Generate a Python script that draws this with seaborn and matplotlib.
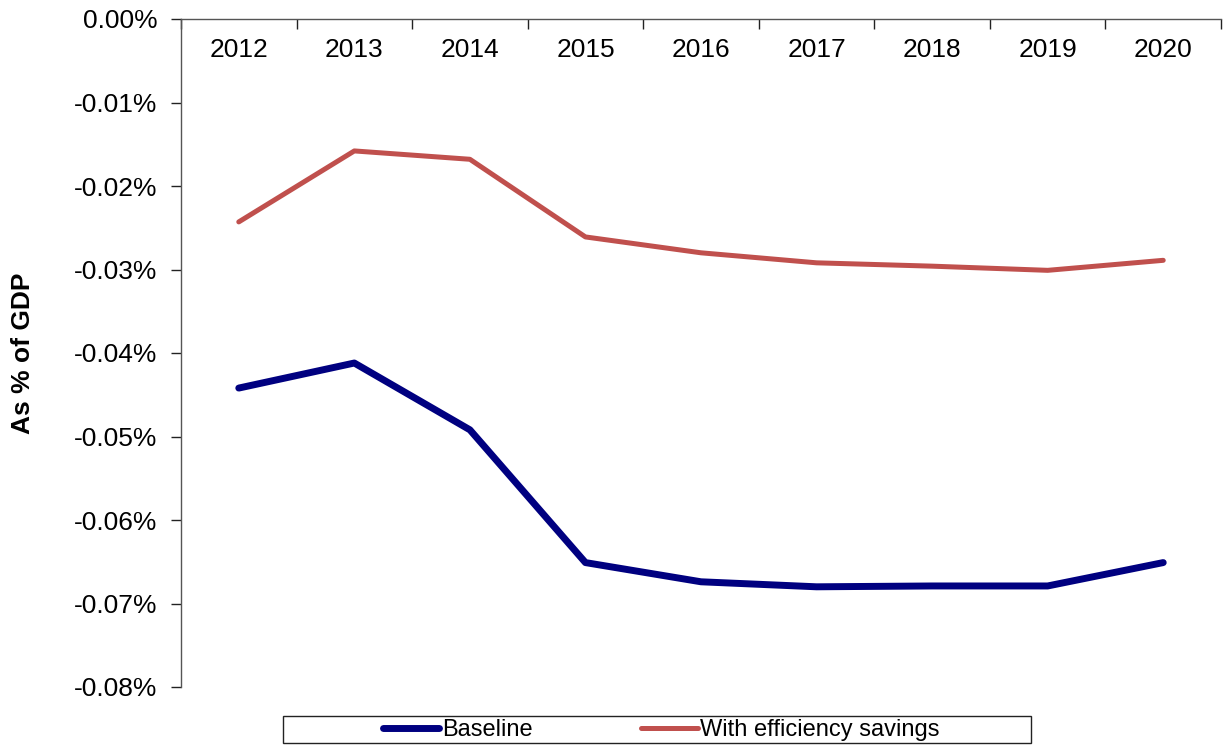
import matplotlib
matplotlib.use("Agg")
import matplotlib.pyplot as plt
import seaborn as sns
import pandas as pd
import numpy as np
from matplotlib.ticker import FuncFormatter, FixedLocator
from matplotlib.patches import Rectangle

years = ["2012", "2013", "2014", "2015", "2016", "2017", "2018", "2019", "2020"]
baseline = [-0.0442, -0.0412, -0.0492, -0.0651, -0.0674, -0.0680, -0.0679, -0.0679, -0.0651]
efficiency = [-0.0243, -0.0158, -0.0168, -0.0261, -0.0280, -0.0292, -0.0296, -0.0301, -0.0289]
series_names = ["Baseline", "With efficiency savings"]
y_ticks = [0.0, -0.01, -0.02, -0.03, -0.04, -0.05, -0.06, -0.07, -0.08]

sns.set_style("white")
plt.rcParams['font.family'] = ['Liberation Sans', 'DejaVu Sans']
plt.rcParams['text.color'] = 'black'
plt.rcParams['axes.labelcolor'] = 'black'
plt.rcParams['xtick.color'] = 'black'
plt.rcParams['ytick.color'] = 'black'

df = pd.DataFrame({
    "pos": list(range(len(years))) * 2,
    "value": baseline + efficiency,
    "series": [series_names[0]] * len(years) + [series_names[1]] * len(years),
})

fig = plt.figure(figsize=(12.25, 7.45), dpi=100)
ax = fig.add_axes([181/1225, 1 - 687/745, (1221-181)/1225, (687-19)/745])

palette = {series_names[0]: "#000080", series_names[1]: "#C0504D"}
sns.lineplot(data=df, x="pos", y="value", hue="series", palette=palette, ax=ax, legend=False)
ax.lines[0].set_linewidth(5.0)
ax.lines[1].set_linewidth(3.6)

ax.set_xlim(-0.5, len(years) - 0.5)
ax.set_ylim(-0.08, 0.0)

# Spines
for s in ["right", "bottom"]:
    ax.spines[s].set_visible(False)
for s in ["left", "top"]:
    ax.spines[s].set_color("#555555")
    ax.spines[s].set_linewidth(1.0)

# x axis: ticks at category boundaries on top (pointing down), labels centered
ax.xaxis.set_major_locator(FixedLocator(np.arange(-0.5, len(years), 1.0)))
ax.xaxis.set_major_formatter(FuncFormatter(lambda v, p: ""))
ax.set_xticks(np.arange(len(years)), minor=True)
ax.set_xticklabels(years, minor=True)
ax.tick_params(axis="x", which="major", bottom=False, top=True, labelbottom=False,
               labeltop=False, direction="in", length=7, color="#222222", width=1)
ax.tick_params(axis="x", which="minor", bottom=False, top=False, labelbottom=False,
               labeltop=True, length=0, pad=-31, labelsize=19, labelcolor="black")
ax.set_xlabel("")

# y axis
ax.set_yticks(y_ticks)
ax.yaxis.set_major_formatter(FuncFormatter(lambda v, p: ("%.2f%%" % v).replace("-0.00", "0.00")))
ax.tick_params(axis="y", which="major", left=True, direction="out", length=7,
               color="#222222", width=1, labelsize=19, pad=10, labelcolor="black")
ax.set_ylabel("As % of GDP", fontsize=19, fontweight="bold", labelpad=28, color="black")

# Legend with box
fig.patches.append(Rectangle((283/1225, 1 - 743/745), (1031-283)/1225, (743-716)/745,
                             transform=fig.transFigure, facecolor="white",
                             edgecolor="#222222", linewidth=1.0))
handles = ax.lines[:2]
leg = fig.legend(handles, series_names, loc="center", bbox_to_anchor=(661/1225, 1 - 730/745),
                 ncol=2, frameon=False, fontsize=17, handlelength=2.4, handletextpad=0.1,
                 columnspacing=4.6)
for t in leg.get_texts():
    t.set_color("black")

fig.savefig("out.png", dpi=100)
